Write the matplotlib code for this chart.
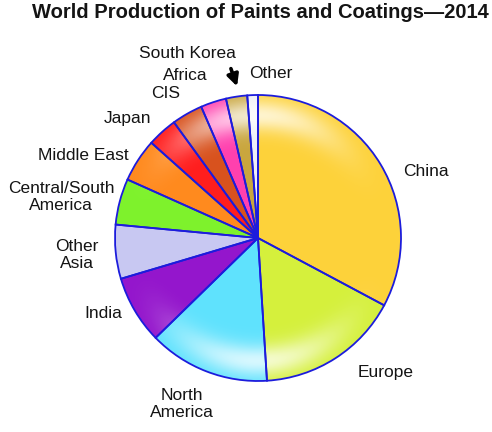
import numpy as np
import matplotlib
matplotlib.use("Agg")
import matplotlib.pyplot as plt
from matplotlib.patches import Circle

plt.rcParams["font.family"] = ["Liberation Sans", "DejaVu Sans"]

# share of world paint & coatings production, 2014 (%)
regions = [
    "China", "Europe", "North America", "India", "Other Asia",
    "Central/South America", "Middle East", "Japan", "CIS", "Africa",
    "South Korea", "Other",
]
shares = [32.8, 16.2, 13.7, 7.7, 6.1, 5.2, 4.9, 3.4, 3.5, 2.9, 2.4, 1.2]
colors = [
    "#fdd23a", "#d5f03c", "#5fe2fd", "#9416cc", "#c8c8f2", "#7ef22c",
    "#ff8a1e", "#ff1e1e", "#d8521e", "#ff40ae", "#c9a63e", "#eeeef6",
]

W, H = 492, 432
cx, cy, R = 258, H - 238, 143
edge = "#1c1cdc"

fig = plt.figure(figsize=(W / 100, H / 100), dpi=100)
ax = fig.add_axes([0, 0, 1, 1])

# filled wedges
ax.pie(shares, colors=colors, startangle=90, counterclock=False,
       center=(cx, cy), radius=R, frame=True,
       wedgeprops=dict(linewidth=0, zorder=1))

# glossy highlight band near the rim, strongest at top and bottom
gx, gy = np.meshgrid(np.linspace(cx - R, cx + R, 400),
                     np.linspace(cy - R, cy + R, 400))
rn = np.hypot(gx - cx, gy - cy) / R
th = np.arctan2(gy - cy, gx - cx)
band = np.exp(-((rn - 0.86) / 0.11) ** 2) * np.sin(th) ** 4
alpha = np.clip(0.75 * band, 0, 1)
alpha[rn > 1] = 0
rgba = np.ones(gx.shape + (4,))
rgba[..., 3] = alpha
img = ax.imshow(rgba, extent=(cx - R, cx + R, cy - R, cy + R),
                origin="lower", zorder=2, interpolation="bilinear")
img.set_clip_path(Circle((cx, cy), R, transform=ax.transData))

# wedge outlines on top
ax.pie(shares, colors=["none"] * len(shares), startangle=90,
       counterclock=False, center=(cx, cy), radius=R, frame=True,
       wedgeprops=dict(linewidth=1.3, edgecolor=edge, zorder=3))
ax.set_xlim(0, W)
ax.set_ylim(0, H)
ax.set_aspect("equal")
ax.axis("off")

label_pos = {
    "China": (426, 172),
    "Europe": (386, 373),
    "North America": (182, 404),
    "India": (103, 313),
    "Other Asia": (77, 255),
    "Central/South America": (61, 197),
    "Middle East": (83, 155),
    "Japan": (128, 118),
    "CIS": (166, 93),
    "Africa": (185, 75),
    "South Korea": (187, 53),
    "Other": (271, 73),
}
label_text = {
    "North America": "North\nAmerica",
    "Other Asia": "Other\nAsia",
    "Central/South America": "Central/South\nAmerica",
}
for name in regions:
    x, y = label_pos[name]
    ax.text(x, H - y, label_text.get(name, name), ha="center", va="center",
            fontsize=12.5, color="#141414", linespacing=1.15, zorder=4)

# pointer for South Korea
ax.annotate("", xy=(238, H - 89), xytext=(230, H - 66),
            arrowprops=dict(arrowstyle="-|>", color="black", lw=2.6,
                            mutation_scale=17), zorder=4)

ax.text(260, H - 12, "World Production of Paints and Coatings\u20142014",
        ha="center", va="center", fontsize=14.5, fontweight="bold",
        color="#141414", zorder=4)

fig.savefig("out.png", dpi=100)
